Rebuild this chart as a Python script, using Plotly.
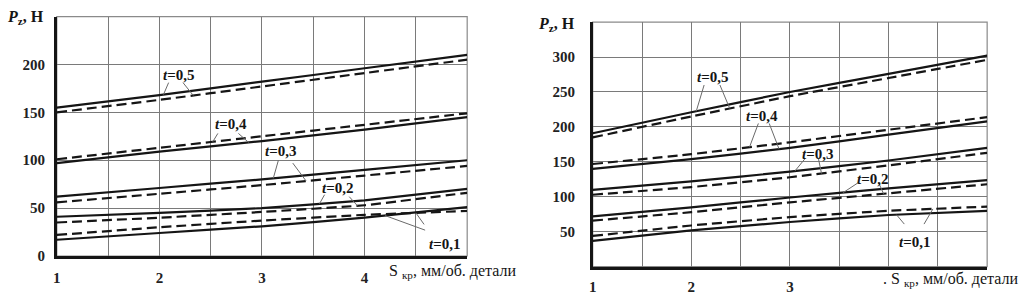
import numpy as np
import plotly.graph_objects as go

# ---------------- data ----------------
feed = [1, 2, 3, 4, 5]  # S кр, мм/об. детали

# left chart (solid / dashed curves for each depth t)
L_solid_01 = [17, 24, 31, 40, 51]
L_dash_01 = [22, 30, 37, 43, 47]
L_solid_02 = [41, 45, 50, 58, 70]
L_dash_02 = [35, 40, 46, 53, 66]
L_solid_03 = [62, 71, 80, 90, 100]
L_dash_03 = [56, 65, 74, 84, 94]
L_solid_04 = [97, 109, 120, 132, 145]
L_dash_04 = [101, 113, 125, 137, 149]
L_solid_05 = [155, 168, 182, 196, 210]
L_dash_05 = [150, 163, 177, 191, 205]

# right chart
R_solid_01 = [37, 52, 64, 74, 80]
R_dash_01 = [44, 59, 71, 80, 86]
R_solid_02 = [72, 85, 99, 112, 124]
R_dash_02 = [66, 78, 92, 105, 118]
R_solid_03 = [110, 122, 136, 152, 170]
R_dash_03 = [103, 114, 128, 145, 163]
R_solid_04 = [140, 154, 170, 189, 208]
R_dash_04 = [147, 161, 178, 196, 214]
R_solid_05 = [191, 221, 250, 276, 302]
R_dash_05 = [185, 215, 244, 270, 296]

depth_text = ["0,1", "0,2", "0,3", "0,4", "0,5"]

left_ticks_x = [1, 2, 3, 4]
right_ticks_x = [1, 2, 3]
left_ticks_y = [0, 50, 100, 150, 200]
right_ticks_y = [50, 100, 150, 200, 250, 300]

# label positions (data coords)
left_label_x = [4.78, 3.74, 3.18, 2.70, 2.19]
left_label_y = [13, 71, 110, 138, 189]
right_label_x = [4.26, 3.84, 3.28, 2.72, 2.21]
right_label_y = [36, 126, 161, 216, 271]

# ---------------- figure ----------------
fig = go.Figure()

L_solid = [L_solid_01, L_solid_02, L_solid_03, L_solid_04, L_solid_05]
L_dash = [L_dash_01, L_dash_02, L_dash_03, L_dash_04, L_dash_05]
R_solid = [R_solid_01, R_solid_02, R_solid_03, R_solid_04, R_solid_05]
R_dash = [R_dash_01, R_dash_02, R_dash_03, R_dash_04, R_dash_05]

SERIF = "Liberation Serif, Times New Roman, DejaVu Serif, serif"
ink = "#151515"
for i in range(5):
    for xs_ax, ys_ax, s, d in (("x", "y", L_solid[i], L_dash[i]), ("x2", "y2", R_solid[i], R_dash[i])):
        fig.add_trace(go.Scatter(x=feed, y=s, mode="lines",
                                 line=dict(color=ink, width=2.2, shape="spline", smoothing=0.3),
                                 xaxis=xs_ax, yaxis=ys_ax, showlegend=False, hoverinfo="skip"))
        fig.add_trace(go.Scatter(x=feed, y=d, mode="lines",
                                 line=dict(color=ink, width=2.2, dash="10px,5px", shape="spline", smoothing=0.3),
                                 xaxis=xs_ax, yaxis=ys_ax, showlegend=False, hoverinfo="skip"))

# leader lines: (label index, start x, start y, end x, to solid curve?)
left_leaders = [
    (0, 4.59, 27, 4.20, True), (0, 4.58, 33, 4.50, False),
    (1, 3.61, 64, 3.56, True), (1, 3.85, 62, 3.93, False),
    (2, 3.16, 100, 3.11, True), (2, 3.30, 97, 3.43, False),
    (3, 2.57, 128, 2.52, False), (3, 2.77, 128, 2.87, True),
    (4, 2.09, 181, 2.04, True), (4, 2.23, 181, 2.33, False),
]
right_leaders = [
    (0, 4.16, 61, 4.08, True), (0, 4.36, 61, 4.45, False),
    (1, 3.69, 120, 3.54, True), (1, 3.90, 120, 3.95, False),
    (2, 3.15, 154, 3.05, True), (2, 3.29, 154, 3.32, False),
    (3, 2.68, 205, 2.59, False), (3, 2.79, 205, 2.89, True),
    (4, 2.13, 260, 2.05, True), (4, 2.29, 260, 2.39, False),
]

lead_col = "#6a6a6a"
for leaders, sol, das, xr, yr in ((left_leaders, L_solid, L_dash, "x", "y"),
                                   (right_leaders, R_solid, R_dash, "x2", "y2")):
    for (k, sx, sy, ex, solid) in leaders:
        curve = sol[k] if solid else das[k]
        ey = float(np.interp(ex, feed, curve))
        fig.add_shape(type="line", xref=xr, yref=yr, x0=sx, y0=sy, x1=ex, y1=ey,
                      line=dict(color=lead_col, width=1))

lab_font = dict(family=SERIF, size=15, color=ink, weight="bold")
for i in range(5):
    fig.add_annotation(x=left_label_x[i], y=left_label_y[i], xref="x", yref="y", showarrow=False,
                       text="<i>t</i>=" + depth_text[i], font=lab_font)
    fig.add_annotation(x=right_label_x[i], y=right_label_y[i], xref="x2", yref="y2", showarrow=False,
                       text="<i>t</i>=" + depth_text[i], font=lab_font)

# gray frame (top / right)
for xr, yr in (("x domain", "y domain"), ("x2 domain", "y2 domain")):
    fig.add_shape(type="rect", xref=xr, yref=yr, x0=0, x1=1, y0=0, y1=1,
                  line=dict(color="#8a8a8a", width=1.2), layer="below")

W, H = 1027, 301
grid_col = "#7a7a7a"
tick_font = dict(family=SERIF, size=15, color="#222", weight="bold")


def xaxis_cfg(dom, ticks, anchor, standoff):
    minor_vals = [v for v in [1.5, 2, 2.5, 3, 3.5, 4, 4.5, 5] if v not in ticks]
    return dict(domain=dom, range=[1, 5], anchor=anchor, tickvals=ticks, ticktext=[str(t) for t in ticks],
                showgrid=True, gridcolor=grid_col, gridwidth=1, zeroline=False,
                showline=True, linecolor=ink, linewidth=2.5, tickfont=tick_font, ticks="",
                ticklabelstandoff=standoff,
                minor=dict(tickvals=minor_vals, showgrid=True, gridcolor=grid_col, gridwidth=1, ticks=""),
                fixedrange=True)


def yaxis_cfg(dom, ticks, top, anchor, standoff):
    minor_vals = [v for v in range(50, top + 1, 50) if v not in ticks]
    return dict(domain=dom, range=[0, top], anchor=anchor, tickvals=ticks,
                showgrid=True, gridcolor=grid_col, gridwidth=1, zeroline=False,
                showline=True, linecolor=ink, linewidth=2.5, tickfont=tick_font, ticks="",
                ticklabelstandoff=standoff,
                minor=dict(tickvals=minor_vals, showgrid=True, gridcolor=grid_col, gridwidth=1, ticks=""),
                fixedrange=True)


fig.update_layout(
    width=W, height=H, margin=dict(l=0, r=0, t=0, b=0),
    paper_bgcolor="white", plot_bgcolor="white",
    xaxis=xaxis_cfg([53 / W, 465 / W], left_ticks_x, "y", 6),
    yaxis=yaxis_cfg([(H - 263) / H, (H - 17) / H], left_ticks_y, 250, "x", 6),
    xaxis2=xaxis_cfg([591 / W, 987 / W], right_ticks_x, "y2", 5),
    yaxis2=yaxis_cfg([(H - 274) / H, (H - 22.7) / H], right_ticks_y, 350, "x2", 12),
)

title_font = dict(family=SERIF, size=16, color=ink)
fig.add_annotation(xref="paper", yref="paper", x=384 / W, y=(H - 279) / H, xanchor="left", yanchor="middle",
                   showarrow=False, text="S <sub>кр</sub>, мм/об. детали", font=title_font)
fig.add_annotation(xref="paper", yref="paper", x=880 / W, y=(H - 287) / H, xanchor="left", yanchor="middle",
                   showarrow=False, text=". S <sub>кр</sub>, мм/об. детали", font=title_font)

yt_font = dict(family=SERIF, size=16, color=ink, weight="bold")
fig.add_annotation(xref="paper", yref="paper", x=1 / W, y=(H - 18) / H, xanchor="left", yanchor="middle",
                   showarrow=False, text="<i>P</i><sub>z</sub>, Н", font=yt_font)
fig.add_annotation(xref="paper", yref="paper", x=534 / W, y=(H - 25) / H, xanchor="left", yanchor="middle",
                   showarrow=False, text="<i>P</i><sub>z</sub>, Н", font=yt_font)

fig.write_html("out.html", config={"displayModeBar": False},
               post_script="document.body.style.margin='0px';")
